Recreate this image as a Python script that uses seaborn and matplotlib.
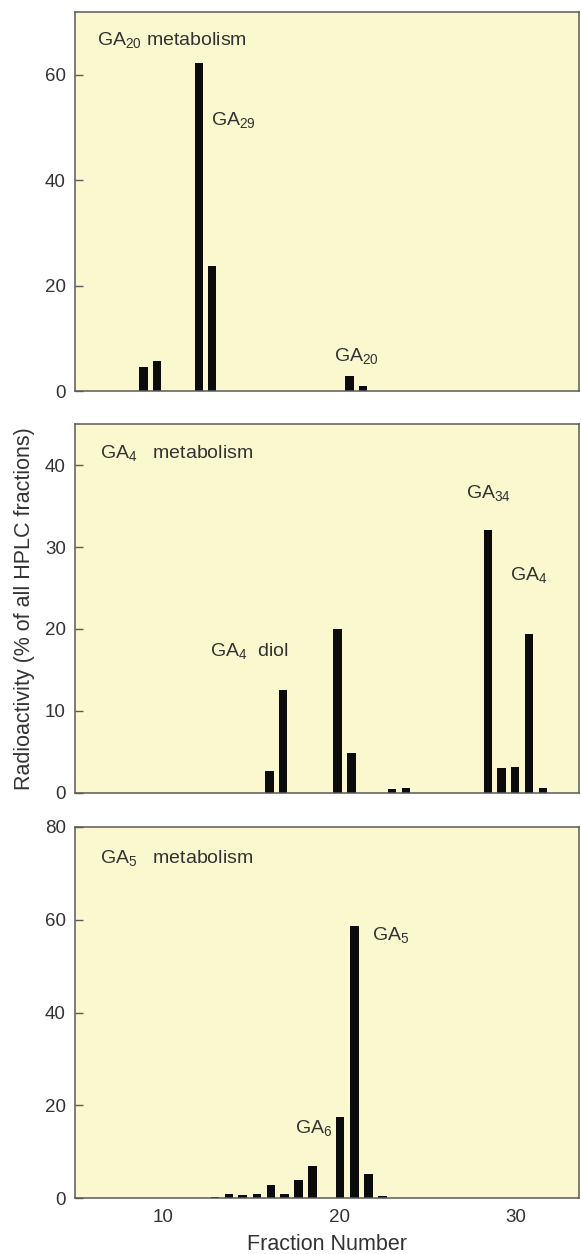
import numpy as np
import pandas as pd
import matplotlib
matplotlib.use("Agg")
import matplotlib.pyplot as plt
import seaborn as sns

# ---------------- data ----------------
ga20_fraction = [8.88, 9.66, 12.02, 12.78, 20.56, 21.34]
ga20_value = [4.5, 5.7, 62.3, 23.8, 2.8, 0.95]

ga4_fraction = [16.02, 16.78, 19.89, 20.67, 22.98, 23.78, 28.42, 29.19, 29.95, 30.75, 31.53]
ga4_value = [2.65, 12.6, 19.95, 4.8, 0.4, 0.53, 32.1, 3.05, 3.13, 19.35, 0.57]

ga5_fraction = [12.94, 13.74, 14.51, 15.31, 16.11, 16.88, 17.68, 18.46, 20.04, 20.86, 21.64, 22.43]
ga5_value = [0.36, 0.93, 0.79, 1.0, 2.87, 1.0, 3.87, 7.03, 17.6, 58.6, 5.17, 0.43]

panel_titles = ["GA$_{20}$ metabolism", "GA$_{4}$   metabolism", "GA$_{5}$   metabolism"]
y_ticks = [[0, 20, 40, 60], [0, 10, 20, 30, 40], [0, 20, 40, 60, 80]]
y_max = [72, 45, 80]
x_ticks = [10, 20, 30]

peak_labels = [
    [("GA$_{29}$", 12.73, 50.5), ("GA$_{20}$", 19.66, 5.74)],
    [("GA$_{34}$", 27.16, 35.97), ("GA$_{4}$", 29.68, 25.99), ("GA$_{4}$  diol", 12.67, 16.74)],
    [("GA$_{5}$", 21.82, 55.7), ("GA$_{6}$", 17.45, 14.1)],
]
title_pos = [(6.25, 65.6), (6.43, 40.85), (6.43, 72.1)]

# ---------------- style ----------------
sns.set_theme(style="ticks")
plt.rcParams["font.family"] = ["Liberation Sans", "DejaVu Sans"]
plt.rcParams["mathtext.fontset"] = "custom"
plt.rcParams["mathtext.rm"] = "Liberation Sans"
plt.rcParams["mathtext.it"] = "Liberation Sans:italic"
plt.rcParams["mathtext.bf"] = "Liberation Sans:bold"
plt.rcParams["mathtext.default"] = "regular"

BG = "#FBF7CF"
SPINE = "#5a5a5a"
TXT = "#333333"
BAR = "#0b0b0b"

fig = plt.figure(figsize=(5.81, 12.54), dpi=100)
left, width = 75 / 581, (579 - 75) / 581
rects = [
    (1 - 391 / 1254, (391 - 11.7) / 1254),
    (1 - 792.7 / 1254, (792.7 - 424.3) / 1254),
    (1 - 1198.3 / 1254, (1198.3 - 826.7) / 1254),
]
datasets = [(ga20_fraction, ga20_value), (ga4_fraction, ga4_value), (ga5_fraction, ga5_value)]

axes = []
for i, ((bottom, height), (fr, val)) in enumerate(zip(rects, datasets)):
    ax = fig.add_axes([left, bottom, width, height])
    df = pd.DataFrame({"fraction": fr, "value": val})
    min_gap = np.min(np.diff(np.sort(df["fraction"].values)))
    sns.barplot(data=df, x="fraction", y="value", native_scale=True,
                width=0.48 / min_gap, color=BAR, saturation=1,
                errorbar=None, linewidth=0, ax=ax)
    ax.set_facecolor(BG)
    ax.set_xlim(5, 33.58)
    ax.set_ylim(0, y_max[i])
    ax.set_yticks(y_ticks[i])
    ax.set_xticks(x_ticks)
    ax.set_xlabel("")
    ax.set_ylabel("")
    for s in ax.spines.values():
        s.set_visible(True)
        s.set_color(SPINE)
        s.set_linewidth(1.1)
    ax.tick_params(axis="y", direction="in", length=6, width=1.0, color=SPINE,
                   labelsize=13.5, labelcolor=TXT, pad=6.5, right=False)
    ax.tick_params(axis="x", length=0, labelsize=13.5, labelcolor=TXT, pad=7.5)
    if i < 2:
        ax.tick_params(axis="x", labelbottom=False)
    tx, ty = title_pos[i]
    ax.text(tx, ty, panel_titles[i], fontsize=14, color=TXT, ha="left", va="baseline")
    for lab, lx, ly in peak_labels[i]:
        ax.text(lx, ly, lab, fontsize=14, color=TXT, ha="left", va="baseline")
    axes.append(ax)

axes[2].set_xlabel("Fraction Number", fontsize=15.5, color=TXT, labelpad=6)
fig.text(25 / 581, 1 - 609 / 1254, "Radioactivity (% of all HPLC fractions)",
         rotation=90, ha="center", va="center", fontsize=15.5, color=TXT)

fig.savefig("out.png", dpi=100, facecolor="white")
